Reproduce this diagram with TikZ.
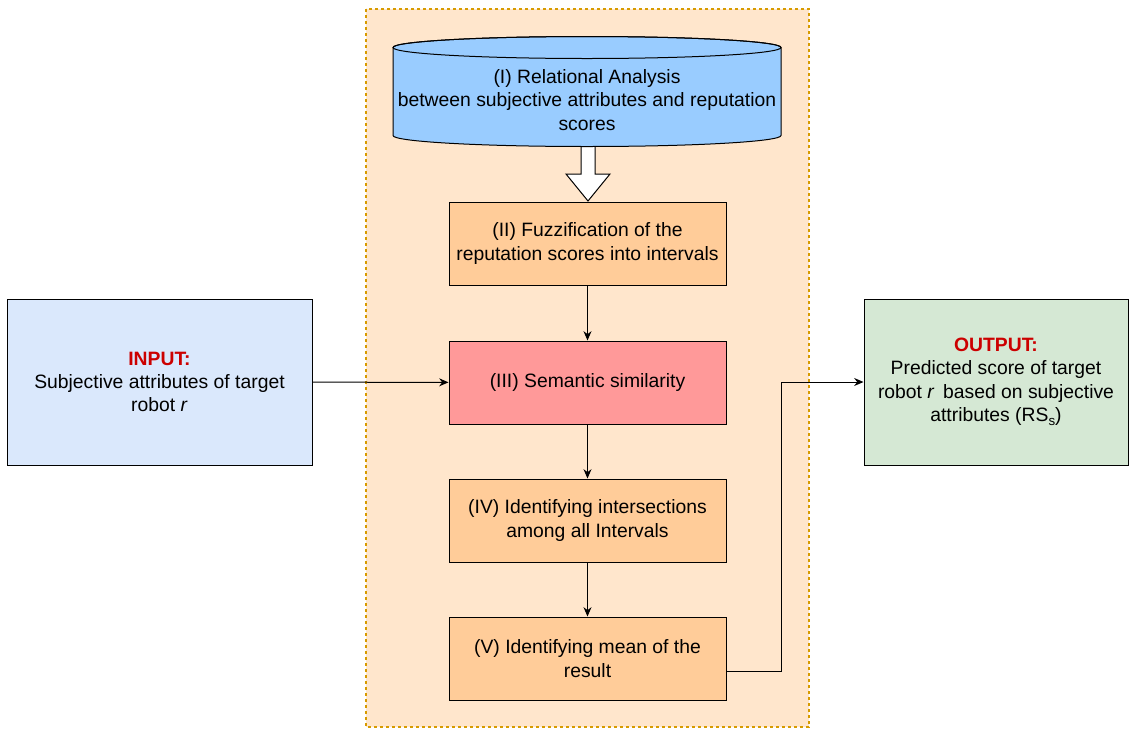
\documentclass[tikz,border=0pt]{standalone}
\usepackage{fontspec}
\setmainfont{Liberation Sans}
\usepackage{tikz}
\usetikzlibrary{arrows.meta}

\definecolor{contfill}{HTML}{FFE6CC}
\definecolor{contline}{HTML}{D79B00}
\definecolor{cylfill}{HTML}{99CCFF}
\definecolor{stepfill}{HTML}{FFCC99}
\definecolor{simfill}{HTML}{FF9999}
\definecolor{infill}{HTML}{DAE8FC}
\definecolor{outfill}{HTML}{D5E8D4}
\definecolor{labelred}{HTML}{CC0000}

\tikzset{
    procbox/.style={draw=black, line width=0.75pt, fill=stepfill, align=center,
        minimum width=207.75pt, minimum height=62.25pt, inner sep=1pt},
    iobox/.style={draw=black, line width=0.75pt, align=center,
        minimum height=124.5pt, inner sep=1pt},
    flow/.style={draw=black, line width=0.75pt, -{Stealth[length=7pt, width=6pt]}}}

\begin{document}
\begin{tikzpicture}[x=0.75pt, y=-0.75pt, font=\fontsize{14.5}{17.5}\selectfont]

                    \useasboundingbox (0,0) rectangle (1129,729);

                    % container of the method
                    \draw[fill=contfill, draw=contline, line width=0.9pt, dash pattern=on 2.5pt off 2pt] (366,9) rectangle (809,727);

                    % hollow arrow under the database
                    \draw[fill=white, line width=0.75pt] (581,140) -- (581,174) -- (566,174) -- (588,201) -- (610,174) -- (595,174) -- (595,140);

                    % database
                    \draw[fill=cylfill, line width=0.75pt] (393,47.5) -- (393,135.5) arc[start angle=180, end angle=360, x radius=145.5pt, y radius=8.25pt] -- (781,47.5) arc[start angle=0, end angle=180, x radius=145.5pt, y radius=8.25pt] -- cycle;
                    \draw[line width=0.75pt] (587,47.5) ellipse[x radius=145.5pt, y radius=8.25pt];
                    \node[align=center] (analysis) at (587,100) {(I) Relational Analysis\\between subjective attributes and reputation\\scores};

                    \node[procbox] (fuzzy) at (587.5,243.5) {(II) Fuzzification of the\\reputation scores into intervals};
                    \node[procbox, fill=simfill] (semantic) at (587.5,382.5) {(III) Semantic similarity};
                    \node[procbox] (intersect) at (587.5,520.5) {(IV) Identifying intersections\\among all Intervals};
                    \node[procbox] (mean) at (587.5,658.5) {(V) Identifying mean of the\\result};

                    \node[iobox, fill=infill, minimum width=228.75pt] (input) at (159.5,382) {\textbf{\textcolor{labelred}{INPUT:}}\\Subjective attributes of target\\robot \textit{r}};
                    \node[iobox, fill=outfill, minimum width=198pt] (output) at (996,382) {\textbf{\textcolor{labelred}{OUTPUT:}}\\Predicted score of target\\robot \textit{r}\, based on subjective\\attributes (RS\raisebox{-0.45ex}{\fontsize{10}{10}\selectfont s})};

                    \coordinate (bend) at (781.5,382);

                    \draw[flow] (fuzzy) -- (semantic);
                    \draw[flow] (semantic) -- (intersect);
                    \draw[flow] (intersect) -- (mean);
                    \draw[flow] (input) -- (semantic);
                    \draw[flow] ([yshift=-10pt]mean.east) -| (bend) -- (output.west |- bend);

                \end{tikzpicture}
\end{document}
